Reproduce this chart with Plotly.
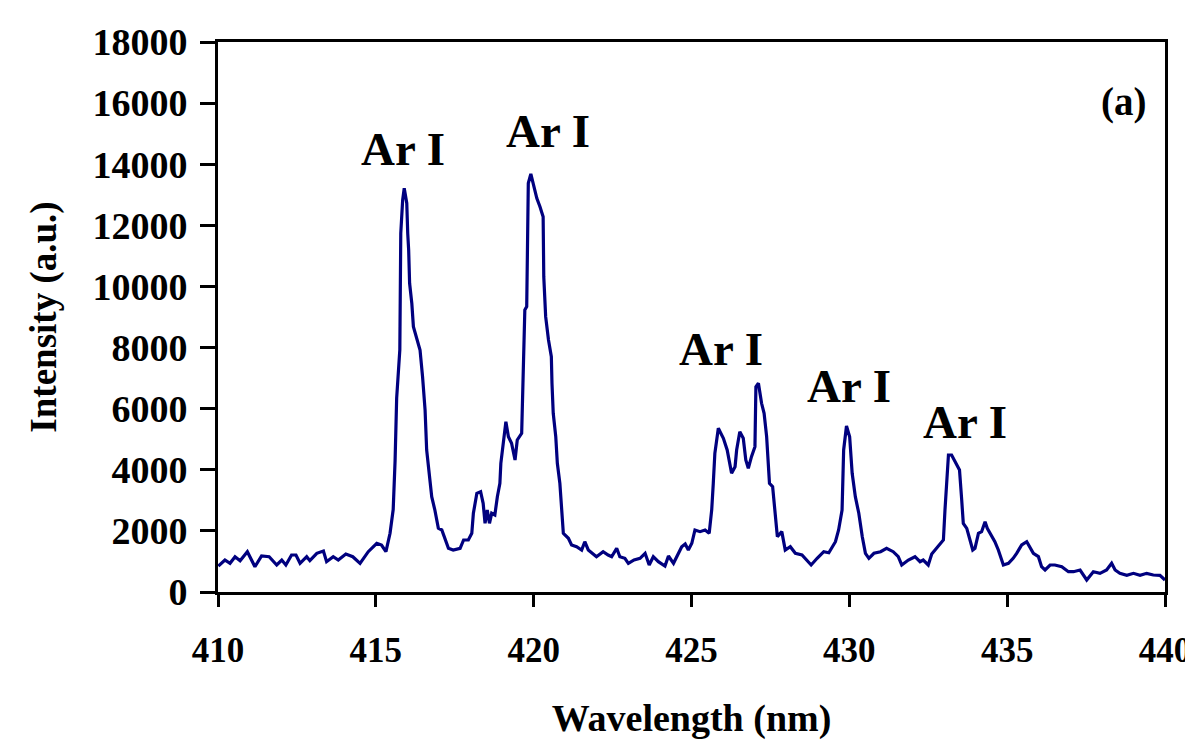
import plotly.graph_objects as go

wavelength = [
    410.01, 410.22, 410.38, 410.54, 410.70, 410.93, 411.17, 411.38, 411.62, 411.86,
    412.02, 412.15, 412.33, 412.47, 412.60, 412.81, 412.91, 413.13, 413.34, 413.44,
    413.65, 413.81, 414.05, 414.27, 414.50, 414.76, 415.03, 415.18, 415.32, 415.45,
    415.55, 415.61, 415.66, 415.76, 415.79, 415.85, 415.90, 415.98, 416.01, 416.04,
    416.07, 416.14, 416.19, 416.30, 416.40, 416.48, 416.56, 416.61, 416.69, 416.77,
    416.87, 416.98, 417.09, 417.19, 417.30, 417.45, 417.67, 417.78, 417.93, 418.04,
    418.09, 418.20, 418.32, 418.40, 418.46, 418.53, 418.60, 418.67, 418.77, 418.85,
    418.93, 418.96, 419.04, 419.12, 419.20, 419.30, 419.41, 419.48, 419.62, 419.67,
    419.72, 419.78, 419.81, 419.83, 419.91, 419.99, 420.10, 420.20, 420.30, 420.32,
    420.38, 420.47, 420.56, 420.58, 420.62, 420.70, 420.75, 420.83, 420.88, 420.90,
    420.94, 421.10, 421.20, 421.36, 421.52, 421.62, 421.73, 421.99, 422.20, 422.36,
    422.47, 422.63, 422.73, 422.89, 423.00, 423.18, 423.37, 423.53, 423.66, 423.79,
    423.95, 424.16, 424.27, 424.43, 424.55, 424.69, 424.80, 424.90, 425.01, 425.11,
    425.27, 425.43, 425.56, 425.64, 425.69, 425.74, 425.85, 426.01, 426.13, 426.27,
    426.38, 426.43, 426.53, 426.64, 426.72, 426.80, 426.90, 427.01, 427.04, 427.12,
    427.22, 427.30, 427.38, 427.47, 427.57, 427.65, 427.72, 427.86, 427.97, 428.13,
    428.29, 428.50, 428.66, 428.79, 428.98, 429.19, 429.35, 429.56, 429.66, 429.77,
    429.82, 429.91, 430.01, 430.09, 430.19, 430.30, 430.41, 430.51, 430.62, 430.78,
    430.99, 431.18, 431.39, 431.55, 431.66, 431.87, 432.08, 432.24, 432.34, 432.50,
    432.61, 432.82, 432.98, 433.03, 433.09, 433.14, 433.24, 433.35, 433.49, 433.56,
    433.61, 433.72, 433.82, 433.91, 433.98, 434.09, 434.19, 434.30, 434.37, 434.46,
    434.61, 434.72, 434.83, 434.88, 435.04, 435.19, 435.30, 435.46, 435.62, 435.72,
    435.83, 435.99, 436.09, 436.20, 436.36, 436.51, 436.73, 436.94, 437.10, 437.31,
    437.47, 437.52, 437.73, 437.94, 438.15, 438.31, 438.42, 438.57, 438.79, 439.00,
    439.21, 439.42, 439.63, 439.84, 440.00,
]

intensity = [
    851, 1047, 939, 1155, 1025, 1319, 828, 1178, 1155, 884,
    1047, 884, 1211, 1211, 939, 1155, 1025, 1266, 1342, 992,
    1155, 1047, 1244, 1155, 939, 1319, 1594, 1538, 1319, 1921,
    2700, 4300, 6350, 7921, 11741, 12830, 13213, 12722, 11741, 11194,
    10104, 9449, 8684, 8248, 7921, 7047, 5957, 4648, 3774, 3119,
    2684, 2085, 2029, 1757, 1430, 1375, 1430, 1702, 1702, 1921,
    2576, 3230, 3284, 2903, 2249, 2684, 2249, 2576, 2520, 3119,
    3557, 4212, 4867, 5574, 5083, 4867, 4320, 4975, 5194, 6831,
    9230, 9340, 11194, 13377, 13682, 13377, 12886, 12611, 12284, 10320,
    9012, 8248, 7702, 6831, 5849, 5083, 4212, 3557, 2792, 2357,
    1921, 1757, 1538, 1483, 1375, 1646, 1375, 1155, 1319, 1211,
    1155, 1430, 1155, 1103, 939, 1050, 1103, 1266, 884, 1155,
    992, 851, 1178, 939, 1211, 1483, 1571, 1375, 1594, 2029,
    1975, 2029, 1921, 2684, 3557, 4540, 5358, 5031, 4648, 3885,
    4101, 4648, 5247, 5031, 4320, 4048, 4428, 4757, 6720, 6831,
    6176, 5849, 5083, 3557, 3447, 2576, 1810, 1975, 1375, 1483,
    1266, 1211, 1047, 884, 1103, 1319, 1286, 1646, 2029, 2684,
    4648, 5433, 5083, 3885, 3119, 2576, 1810, 1266, 1103, 1266,
    1319, 1430, 1319, 1155, 884, 1047, 1155, 992, 1047, 884,
    1244, 1483, 1702, 2684, 3665, 4484, 4484, 4265, 3993, 3011,
    2247, 2084, 1702, 1375, 1429, 1920, 1975, 2302, 2084, 1920,
    1647, 1375, 1047, 884, 938, 1102, 1265, 1538, 1647, 1484,
    1265, 1157, 829, 720, 884, 884, 829, 665, 665, 720,
    447, 393, 665, 611, 720, 938, 720, 611, 546, 611,
    546, 611, 556, 546, 393,
]

x_ticks = [410, 415, 420, 425, 430, 435, 440]
y_ticks = [0, 2000, 4000, 6000, 8000, 10000, 12000, 14000, 16000, 18000]

peak_labels = ["Ar I", "Ar I", "Ar I", "Ar I", "Ar I"]
peak_label_x = [415.86, 420.45, 425.93, 429.99, 433.66]
peak_label_y = [14500, 15100, 7950, 6750, 5550]

panel_label = "(a)"
panel_label_x = 438.67
panel_label_y = 16050

x_title = "Wavelength (nm)"
y_title = "Intensity (a.u.)"

FONT = "Liberation Serif"

fig = go.Figure()
fig.add_trace(go.Scatter(
    x=wavelength, y=intensity, mode="lines",
    line=dict(color="#00007f", width=3.2),
    showlegend=False, hoverinfo="x+y",
))

for txt, lx, ly in zip(peak_labels, peak_label_x, peak_label_y):
    fig.add_annotation(x=lx, y=ly, text=txt, showarrow=False,
                       font=dict(family=FONT, size=47, color="black", weight="bold"))

fig.add_annotation(x=panel_label_x, y=panel_label_y, text=panel_label, showarrow=False,
                   font=dict(family=FONT, size=39, color="black", weight="bold"))

# page body has an 8px margin, so size the figure to fit the 1193x744 window
fig.update_layout(
    width=1185, height=736,
    margin=dict(l=210, r=28, t=34, b=152),
    paper_bgcolor="white", plot_bgcolor="white",
    font=dict(family=FONT, color="black"),
)

fig.update_xaxes(
    range=[410, 440], tickvals=x_ticks, ticktext=[str(v) for v in x_ticks],
    showline=True, linewidth=3, linecolor="black", mirror=True,
    ticks="outside", ticklen=12, tickwidth=2.5, tickcolor="black",
    showgrid=False, zeroline=False,
    tickfont=dict(family=FONT, size=35, color="black", weight="bold"),
    ticklabelstandoff=13, ticklabeloverflow="allow",
    title=dict(text=x_title, standoff=36,
               font=dict(family=FONT, size=38, color="black", weight="bold")),
    automargin=False,
)
fig.update_yaxes(
    range=[0, 18000], tickvals=y_ticks, ticktext=[str(v) for v in y_ticks],
    showline=True, linewidth=3, linecolor="black", mirror=True,
    ticks="outside", ticklen=15, tickwidth=2.5, tickcolor="black",
    showgrid=False, zeroline=False,
    tickfont=dict(family=FONT, size=38, color="black", weight="bold"),
    ticklabelstandoff=5, ticklabeloverflow="allow",
    title=dict(text=y_title, standoff=25,
               font=dict(family=FONT, size=37, color="black", weight="bold")),
    automargin=False,
)

fig.write_html("out.html")
